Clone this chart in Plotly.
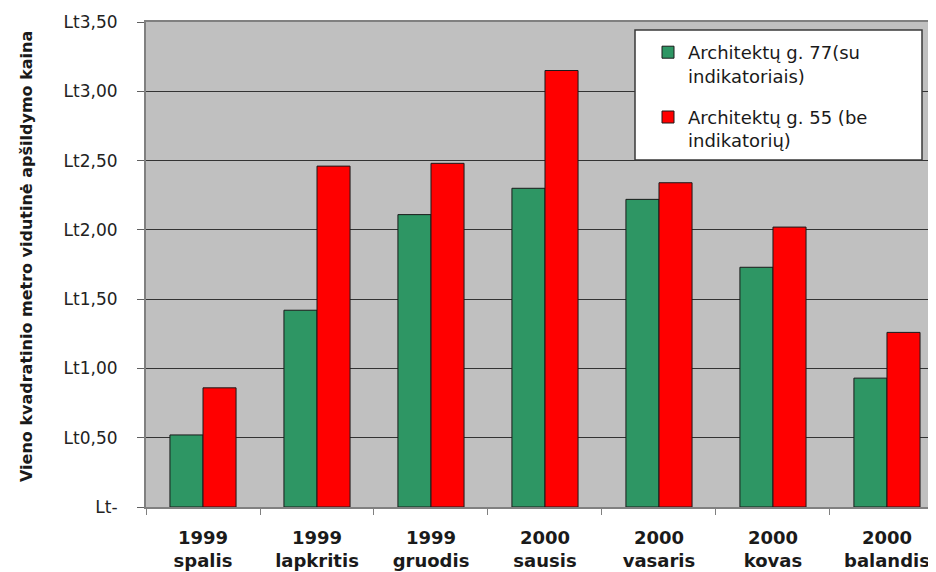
import plotly.graph_objects as go

# ---- data ----
years = ["1999", "1999", "1999", "2000", "2000", "2000", "2000"]
months = ["spalis", "lapkritis", "gruodis", "sausis", "vasaris", "kovas", "balandis"]
green_vals = [0.52, 1.42, 2.11, 2.30, 2.22, 1.73, 0.93]
red_vals = [0.86, 2.46, 2.48, 3.15, 2.34, 2.02, 1.26]
series_names = ["Architektų g. 77(su<br>indikatoriais)", "Architektų g. 55 (be<br>indikatorių)"]
y_tickvals = [0, 0.5, 1.0, 1.5, 2.0, 2.5, 3.0, 3.5]
y_ticktext = ["Lt-", "Lt0,50", "Lt1,00", "Lt1,50", "Lt2,00", "Lt2,50", "Lt3,00", "Lt3,50"]
y_title = "Vieno kvadratinio metro vidutinė apšildymo kaina"

cats = [f"{y}<br>{m}" for y, m in zip(years, months)]

# ---- layout geometry (page has an 8px body margin) ----
OFF = 8
W, H = 936 - OFF, 572 - OFF
L, T = 146 - OFF, 22 - OFF
B = H - (507 - OFF)
R = 0
pw, ph = W - L - R, H - T - B


def px(x):
    return (x - OFF - L) / pw


def py(y):
    return (H - B - (y - OFF)) / ph


fig = go.Figure()
fig.add_bar(x=cats, y=green_vals, name=series_names[0], legendgroup="a",
            marker=dict(color="#2e9664", line=dict(color="#1a1a1a", width=1)))
fig.add_bar(x=cats, y=red_vals, name=series_names[1], legendgroup="b",
            marker=dict(color="#ff0000", line=dict(color="#1a1a1a", width=1)))

fig.update_layout(
    width=W, height=H,
    margin=dict(l=L, r=R, t=T, b=B, autoexpand=False),
    paper_bgcolor="white", plot_bgcolor="#c0c0c0",
    barmode="group", bargap=0.42, bargroupgap=0,
    font=dict(family="DejaVu Sans", size=17, color="#222222"),
    showlegend=True,
    legend=dict(x=px(648), y=py(34), xanchor="left", yanchor="top",
                bgcolor="rgba(0,0,0,0)", borderwidth=0,
                font=dict(family="DejaVu Sans", size=18, color="#1a1a1a"),
                valign="top", traceorder="grouped", tracegroupgap=15, itemwidth=30),
    xaxis=dict(type="category", range=[-0.5, 6.43], tickson="boundaries",
               ticks="outside", ticklen=6, tickcolor="#808080",
               showline=True, linecolor="#808080", linewidth=2, mirror=True,
               showgrid=False, automargin=False,
               tickfont=dict(family="DejaVu Sans", size=18, color="#1a1a1a", weight="bold"),
               ticklabelstandoff=13),
    yaxis=dict(range=[0, 3.5], tickvals=y_tickvals, ticktext=y_ticktext,
               ticks="outside", ticklen=7, tickcolor="#606060",
               showline=True, linecolor="#808080", linewidth=2,
               showgrid=True, gridcolor="#333333", gridwidth=1, zeroline=False,
               automargin=False,
               tickfont=dict(family="DejaVu Sans", size=17, color="#222222"),
               ticklabelstandoff=16),
    shapes=[dict(type="rect", xref="paper", yref="paper",
                 x0=px(635), x1=px(922), y0=py(160), y1=py(30),
                 fillcolor="white", line=dict(color="#3a3a3a", width=1.5), layer="above")],
    annotations=[dict(text=y_title, textangle=-90, xref="paper", yref="paper",
                      x=px(26), y=py(257), xanchor="center", yanchor="middle",
                      showarrow=False,
                      font=dict(family="DejaVu Sans", size=16, color="#1a1a1a", weight="bold"))],
)

fig.write_html("out.html")
